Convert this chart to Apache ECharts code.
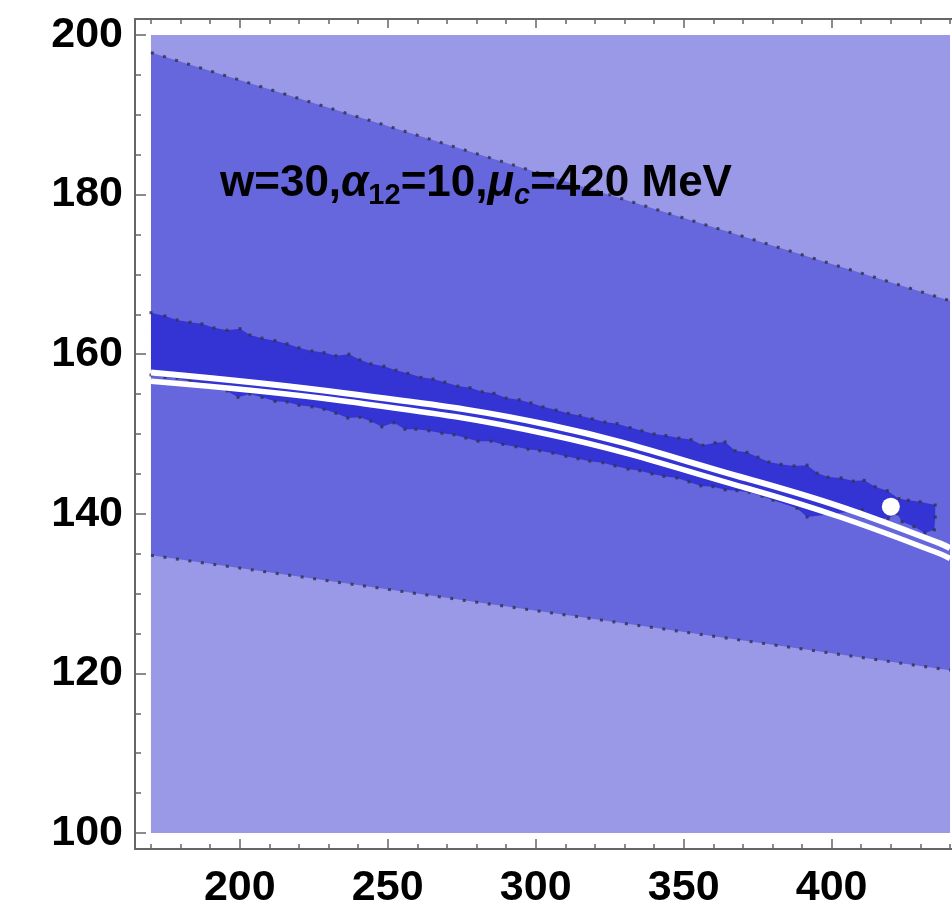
<!DOCTYPE html>
<html>
<head>
<meta charset="utf-8">
<script src="https://cdn.jsdelivr.net/npm/echarts@6/dist/echarts.min.js"></script>
<style>
html,body{margin:0;padding:0;background:#fff;}
#chart{width:952px;height:905px;}
</style>
</head>
<body>
<div id="chart"></div>
<script>
// ---- data ----
const xTickLabels = [200, 250, 300, 350, 400];
const xMinorTicks = [170,180,190,200,210,220,230,240,250,260,270,280,290,300,310,320,330,340,350,360,370,380,390,400,410,420,430,440];
const yTickLabels = [100, 120, 140, 160, 180, 200];
const yMinorTicks = [100,105,110,115,120,125,130,135,140,145,150,155,160,165,170,175,180,185,190,195,200];

// full parameter region (lightest)
const lightRegion = [[170,100],[440,100],[440,200],[170,200]];
// middle band boundaries
const midUpper = [[170,197.8],[440,166.7]];
const midLower = [[170,134.8],[440,120.4]];
// dark (irregular) band: upper edge left->right, lower edge right->left
const darkUpper = [[170,165.2],[174.7,164.8],[178.8,164.3],[183.2,164.0],[187.2,163.8],[191.3,163.3],[195.7,163.0],[200.1,163.2],[203.4,162.4],[207.5,162.0],[211.9,161.7],[216.0,161.3],[220.0,160.8],[224.4,160.4],[228.5,160.2],[232.5,159.8],[236.9,160.0],[240.6,159.3],[244.3,158.8],[248.7,158.5],[252.8,158.0],[256.8,157.6],[261.2,157.1],[265.3,156.9],[269.3,156.5],[273.7,156.0],[277.8,155.8],[281.9,155.3],[285.9,155.1],[290.0,154.5],[294.4,154.3],[298.4,153.9],[302.5,153.4],[306.9,153.0],[311.0,152.6],[315.0,152.3],[319.1,151.9],[323.4,151.5],[327.5,151.3],[331.9,150.8],[335.9,150.4],[340.0,150.0],[344.0,149.8],[348.4,149.5],[352.5,149.3],[356.5,148.6],[360.6,148.9],[364.0,149.0],[367.4,147.9],[371.4,147.7],[375.1,147.1],[378.8,146.5],[382.9,146.2],[387.3,146.0],[391.7,146.1],[395.1,145.1],[398.8,144.6],[403.2,144.5],[407.3,144.1],[411.0,144.2],[414.7,143.4],[418.8,142.9],[422.8,141.9],[425.9,141.7],[429.9,141.5],[435.0,141.1],[435.0,139.6]];
const darkLower = [[434.7,138.0],[431.5,137.6],[427.8,138.4],[423.8,139.0],[422.1,140.0],[419.1,139.4],[414.7,139.4],[411.0,139.6],[410.4,140.5],[401.3,140.0],[391.7,139.6],[388.3,140.7],[380.2,141.7],[376.5,142.2],[372.1,142.7],[368.0,142.9],[364.0,143.0],[359.9,143.4],[355.8,143.5],[351.8,144.0],[347.7,144.5],[343.3,144.7],[339.3,145.0],[335.2,145.4],[331.2,145.6],[326.8,146.0],[322.7,146.4],[318.3,146.6],[314.3,146.9],[310.2,147.2],[305.8,147.6],[301.4,147.9],[297.4,148.1],[293.3,148.4],[288.9,148.7],[284.9,149.1],[280.5,149.1],[276.4,149.5],[272.4,149.9],[268.3,150.1],[263.9,150.4],[259.5,150.6],[255.8,150.6],[252.1,151.4],[248.0,150.9],[244.3,151.6],[240.6,152.1],[236.5,152.0],[232.5,152.6],[228.5,153.1],[224.4,153.4],[220.0,153.6],[216.0,154.0],[211.9,154.1],[207.5,154.6],[203.4,155.0],[199.4,154.6],[195.7,155.4],[191.6,155.9],[187.2,156.3],[183.2,156.6],[178.8,157.0],[174.7,157.1],[170,157.4]];
// two white curves
const curveUpper = [[170,157.7],[235.6,155.1],[304.9,151.1],[371.4,144.4],[402.8,140.9],[436.6,136.3],[440,135.7]];
const curveLower = [[170,156.6],[235.6,154.1],[304.9,149.9],[371.4,143.2],[402.8,139.6],[436.6,135.0],[440,134.4]];
// white point
const dotPoint = [[420,140.9]];

const annotation = '{n|w=30,}{g|α}{s|12}{n|=10,}{g|μ}{si|c}{n|=420 MeV}';

// ---- chart ----
const FONT = 'Liberation Sans, Arial, sans-serif';
const X_MIN = 164.6, X_MAX = 445.4, Y_MIN = 98, Y_MAX = 202;
const LIGHT = '#9999e8', MID = '#6666dd', DARK = '#3434d5';
const AXC = '#666666';

function polySeries(points, color, z) {
  return {
    type: 'custom', coordinateSystem: 'cartesian2d', silent: true, z: z,
    data: [points[0]],
    renderItem: function (params, api) {
      return {
        type: 'polygon',
        shape: { points: points.map(function (p) { return api.coord(p); }) },
        style: { fill: color, stroke: null }
      };
    }
  };
}

function xAx(pos, ticks, len, labels) {
  return {
    type: 'value', min: X_MIN, max: X_MAX, position: pos,
    axisLine: { show: true, onZero: false, lineStyle: { color: AXC, width: 2 } },
    axisTick: { show: true, inside: true, length: len, customValues: ticks, lineStyle: { color: AXC, width: 1.5 } },
    axisLabel: labels ? { show: true, customValues: labels, fontSize: 43, fontWeight: 'bold', fontFamily: FONT, color: '#000', margin: 18 } : { show: false },
    splitLine: { show: false }
  };
}
function yAx(ticks, len, labels) {
  return {
    type: 'value', min: Y_MIN, max: Y_MAX, position: 'left',
    axisLine: { show: true, onZero: false, lineStyle: { color: AXC, width: 2 } },
    axisTick: { show: true, inside: true, length: len, customValues: ticks, lineStyle: { color: AXC, width: 1.5 } },
    axisLabel: labels ? { show: true, customValues: labels, fontSize: 43, fontWeight: 'bold', fontFamily: FONT, color: '#000', margin: 12 } : { show: false },
    splitLine: { show: false }
  };
}

const dotted = { color: 'rgba(50,50,80,0.85)', width: 3, type: [3, 9.6], cap: 'butt' };

const option = {
  animation: false,
  backgroundColor: '#ffffff',
  grid: { left: 135, top: 19, right: -14, bottom: 56, outerBoundsMode: 'none', containLabel: false },
  xAxis: [
    xAx('bottom', xTickLabels, 10, xTickLabels),
    xAx('bottom', xMinorTicks, 5, null),
    xAx('top', xTickLabels, 9, null),
    xAx('top', xMinorTicks, 5, null)
  ],
  yAxis: [
    yAx(yTickLabels, 11, yTickLabels),
    yAx(yMinorTicks, 6, null)
  ],
  series: [
    polySeries(lightRegion, LIGHT, 1),
    polySeries(midUpper.concat(midLower.slice().reverse()), MID, 2),
    polySeries(darkUpper.concat(darkLower), DARK, 3),
    { type: 'line', data: midUpper, symbol: 'none', lineStyle: dotted, z: 4, silent: true },
    { type: 'line', data: midLower, symbol: 'none', lineStyle: dotted, z: 4, silent: true },
    { type: 'line', data: darkUpper, showSymbol: true, showAllSymbol: true, symbol: 'rect', symbolSize: 3,
      itemStyle: { color: 'rgba(50,50,80,0.85)' }, lineStyle: { opacity: 0 }, z: 4, silent: true },
    { type: 'line', data: darkLower, showSymbol: true, showAllSymbol: true, symbol: 'rect', symbolSize: 3,
      itemStyle: { color: 'rgba(50,50,80,0.85)' }, lineStyle: { opacity: 0 }, z: 4, silent: true },
    { type: 'line', data: curveUpper, smooth: 0.4, symbol: 'none', lineStyle: { color: '#ffffff', width: 6 }, z: 5, silent: true },
    { type: 'line', data: curveLower, smooth: 0.4, symbol: 'none', lineStyle: { color: '#ffffff', width: 5.5 }, z: 5, silent: true },
    { type: 'scatter', data: dotPoint, symbol: 'circle', symbolSize: 18, itemStyle: { color: '#ffffff', opacity: 1 }, z: 6, silent: true }
  ],
  graphic: [{
    type: 'text', left: 220, top: 162, z: 10,
    style: {
      text: annotation,
      rich: {
        n: { fontSize: 44, fontWeight: 'bold', fontFamily: FONT, fill: '#000', lineHeight: 52, verticalAlign: 'middle' },
        g: { fontSize: 44, fontWeight: 'bold', fontStyle: 'italic', fontFamily: FONT, fill: '#000', lineHeight: 52, verticalAlign: 'middle' },
        s: { fontSize: 29, fontWeight: 'bold', fontFamily: FONT, fill: '#000', lineHeight: 32, verticalAlign: 'bottom' },
        si: { fontSize: 29, fontWeight: 'bold', fontStyle: 'italic', fontFamily: FONT, fill: '#000', lineHeight: 32, verticalAlign: 'bottom' }
      }
    }
  }]
};

const chart = echarts.init(document.getElementById('chart'), null, { renderer: 'canvas' });
chart.setOption(option);
</script>
</body>
</html>
